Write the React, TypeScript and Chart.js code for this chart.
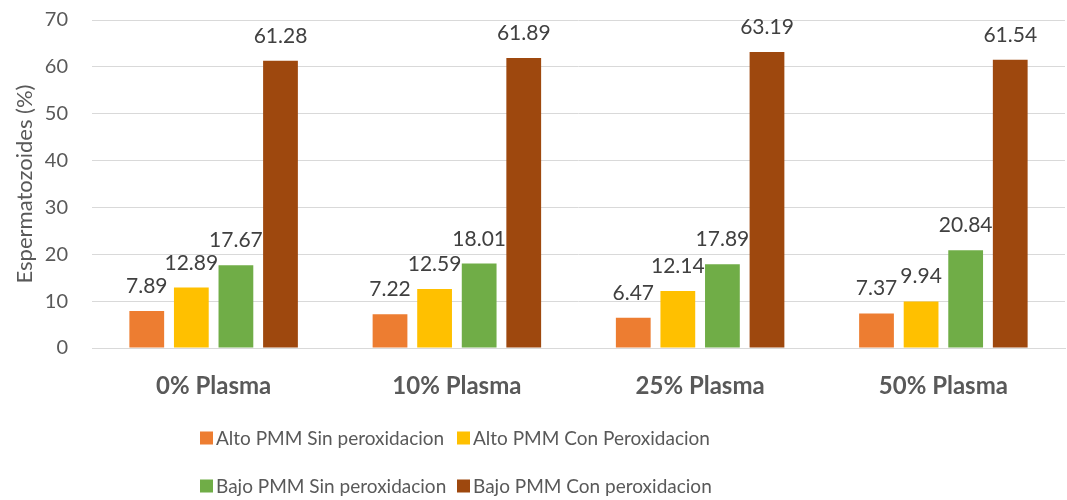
import React, { useEffect, useRef } from "react";
import { Chart, registerables } from "chart.js";

Chart.register(...registerables);

const categories = ["0% Plasma", "10% Plasma", "25% Plasma", "50% Plasma"];
const seriesNames = [
  "Alto PMM Sin peroxidacion",
  "Alto PMM Con Peroxidacion",
  "Bajo PMM Sin peroxidacion",
  "Bajo PMM Con peroxidacion",
];
const altoSin = [7.89, 7.22, 6.47, 7.37];
const altoCon = [12.89, 12.59, 12.14, 9.94];
const bajoSin = [17.67, 18.01, 17.89, 20.84];
const bajoCon = [61.28, 61.89, 63.19, 61.54];
const seriesColors = ["#ED7D31", "#FFC000", "#70AD47", "#9E480E"];
const yTicks = [0, 10, 20, 30, 40, 50, 60, 70];

const FONT = "Lato, 'Noto Sans', sans-serif";

const dataLabelPlugin = {
  id: "dataLabels",
  afterDatasetsDraw(chart: any) {
    const ctx = chart.ctx;
    ctx.save();
    ctx.font = `21px ${FONT}`;
    ctx.fillStyle = "#404040";
    ctx.textAlign = "center";
    ctx.textBaseline = "alphabetic";
    chart.data.datasets.forEach((ds: any, i: number) => {
      const meta = chart.getDatasetMeta(i);
      meta.data.forEach((el: any, j: number) => {
        ctx.fillText(Number(ds.data[j]).toFixed(2), el.x, el.y - 18);
      });
    });
    ctx.restore();
  },
};

const legendPlugin = {
  id: "customLegend",
  afterDraw(chart: any) {
    const ctx = chart.ctx;
    ctx.save();
    ctx.font = `19px ${FONT}`;
    ctx.textAlign = "left";
    ctx.textBaseline = "middle";
    const colX = [200, 457];
    const rowY = [438, 486];
    chart.data.datasets.forEach((ds: any, i: number) => {
      const x = colX[i % 2];
      const y = rowY[Math.floor(i / 2)];
      ctx.fillStyle = ds.backgroundColor;
      ctx.fillRect(x, y - 6.5, 13, 13);
      ctx.fillStyle = "#595959";
      ctx.fillText(ds.label, x + 16, y + 1);
    });
    ctx.restore();
  },
};

export default function App() {
  const ref = useRef<HTMLCanvasElement | null>(null);
  useEffect(() => {
    document.body.style.margin = "0";
    const seriesData = [altoSin, altoCon, bajoSin, bajoCon];
    const chart = new Chart(ref.current as HTMLCanvasElement, {
      type: "bar",
      data: {
        labels: categories,
        datasets: seriesNames.map((name, i) => ({
          label: name,
          data: seriesData[i],
          backgroundColor: seriesColors[i],
          borderWidth: 0,
          categoryPercentage: 0.733,
          barPercentage: 0.78,
        })),
      },
      options: {
        animation: false,
        responsive: false,
        maintainAspectRatio: false,
        layout: { padding: { top: 20, right: 2, left: 0, bottom: 0 } },
        plugins: {
          legend: { display: false },
          tooltip: { enabled: false },
        },
        scales: {
          x: {
            grid: { display: false },
            border: { display: true, color: "#D9D9D9", width: 1 },
            ticks: {
              color: "#595959",
              font: { family: FONT, size: 24, weight: "bold" },
              padding: 16,
              maxRotation: 0,
            },
            afterFit: (s: any) => {
              s.height = 152;
            },
          },
          y: {
            min: 0,
            max: 70,
            afterBuildTicks: (s: any) => {
              s.ticks = yTicks.map((v) => ({ value: v }));
            },
            grid: { color: "#D9D9D9", lineWidth: 1, drawTicks: false },
            border: { display: false },
            ticks: {
              color: "#595959",
              font: { family: FONT, size: 20 },
              padding: 24,
            },
            title: {
              display: true,
              text: "Espermatozoides (%)",
              color: "#595959",
              font: { family: FONT, size: 22 },
              padding: { top: 12, bottom: 0 },
            },
            afterFit: (s: any) => {
              s.width = 92;
              s.paddingTop = 0;
              s.paddingBottom = 0;
            },
          },
        },
      },
      plugins: [dataLabelPlugin, legendPlugin],
    });
    return () => chart.destroy();
  }, []);
  return (
    <div style={{ width: 1067, height: 500, background: "#fff" }}>
      <canvas ref={ref} width={1067} height={500} style={{ display: "block" }} />
    </div>
  );
}
